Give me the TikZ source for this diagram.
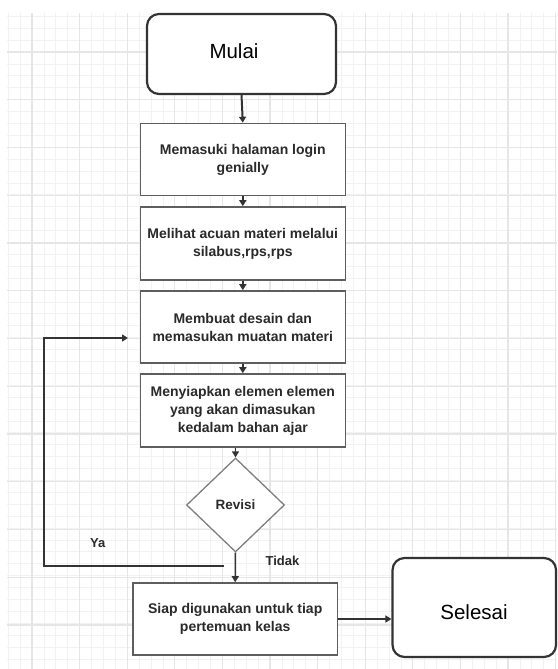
\documentclass[tikz,border=0pt]{standalone}
\usepackage{fontspec}
\setmainfont{Liberation Sans}
\usetikzlibrary{shapes.geometric,arrows.meta}
\definecolor{gridminor}{HTML}{F2F2F2}
\definecolor{gridmajor}{HTML}{E6E6E6}
\definecolor{boxline}{HTML}{5E5E5E}
\definecolor{txt}{HTML}{2A2A2A}
\definecolor{conn}{HTML}{333333}
\tikzset{
  procbox/.style={draw=boxline, line width=1.6pt, fill=white, minimum width=205pt, minimum height=72pt, align=center, text=txt, inner sep=2pt, font=\fontsize{14}{18}\selectfont\bfseries},
  termbox/.style={draw=conn, line width=2.2pt, fill=white, rounded corners=12pt, text=black, font=\fontsize{20.5}{24}\selectfont},
  decbox/.style={diamond, draw=boxline!80, line width=1.3pt, fill=white, minimum width=98pt, minimum height=94pt, inner sep=0pt, text=txt, font=\fontsize{13.5}{16}\selectfont\bfseries},
  flow/.style={draw=conn, line width=1.5pt, -{Triangle[length=6pt,width=7pt]}},
  lbl/.style={text=txt, font=\fontsize{13}{16}\selectfont\bfseries},
}
\begin{document}
\begin{tikzpicture}[x=1pt,y=-1pt]
\useasboundingbox (0,0) rectangle (557,669);
\fill[white] (0,0) rectangle (557,669);
% background grid
\foreach \i in {0,...,46} {
  \draw[gridminor, line width=0.7pt] ({8.2+11.9*\i},13) -- ({8.2+11.9*\i},669);
}
\foreach \i in {0,...,55} {
  \draw[gridminor, line width=0.7pt] (7,{16.3+11.9*\i}) -- (557,{16.3+11.9*\i});
}
\foreach \i in {0,...,11} {
  \draw[gridmajor, line width=1.1pt] ({32+47.6*\i},13) -- ({32+47.6*\i},669);
}
\foreach \i in {0,...,13} {
  \draw[gridmajor, line width=1.1pt] (7,{52+47.75*\i}) -- (557,{52+47.75*\i});
}
% nodes
\node[termbox, minimum width=189pt, minimum height=80pt] (mulai) at (241.5,54) {};
\node[termbox, anchor=center, draw=none, fill=none] (mulaitext) at (234,51) {Mulai};
\node[procbox] (b1) at (242.8,159.5) {Memasuki halaman login\\genially};
\node[procbox, minimum height=73pt] (b2) at (242.8,243.5) {Melihat acuan materi melalui\\silabus,rps,rps};
\node[procbox] (b3) at (242.8,327) {Membuat desain dan\\memasukan muatan materi};
\node[procbox, minimum height=73pt] (b4) at (242.8,410.5) {Menyiapkan elemen elemen\\yang akan dimasukan\\kedalam bahan ajar};
\node[decbox] (rev) at (235.5,505) {Revisi};
\node[procbox, minimum width=204.5pt] (b5) at (235.2,619) {Siap digunakan untuk tiap\\pertemuan kelas};
\node[termbox, minimum width=163.5pt, minimum height=99pt] (selesai) at (474.3,607.5) {};
\node[termbox, draw=none, fill=none] (selesaitext) at (474,612) {Selesai};
% connectors
\draw[flow, line width=2pt] (mulai.south) -- (b1.north);
\draw[flow] (b1.south) -- (b2.north);
\draw[flow] (b2.south) -- (b3.north);
\draw[flow] (b3.south) -- (b4.north);
\draw[flow] (rev.north |- b4.south) -- (rev.north);
\draw[flow] (rev.south) -- (b5.north);
\draw[flow] (b5.east) -- (b5.east -| selesai.west);
\coordinate (ya1) at (224,566);
\coordinate (ya2) at (44,566);
\coordinate (ya3) at (128,338);
\draw[flow, line width=1.3pt] (ya1) -- (ya2) |- (ya3);
% labels
\node[lbl] (ya) at (97.7,543) {Ya};
\node[lbl] (tidak) at (282.4,561) {Tidak};
\end{tikzpicture}
\end{document}
